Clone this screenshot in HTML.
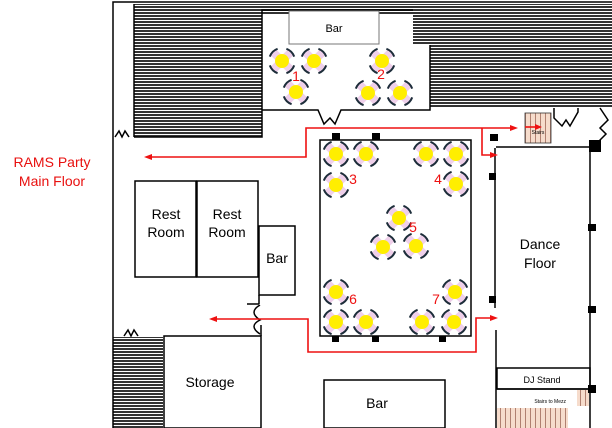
<!DOCTYPE html>
<html><head><meta charset="utf-8"><style>
html,body{margin:0;padding:0;background:#fff}
svg{display:block}
text{font-family:"Liberation Sans",sans-serif}
</style></head><body>
<svg width="612" height="428" viewBox="0 0 612 428" xmlns="http://www.w3.org/2000/svg">
<defs>
<pattern id="h" width="6" height="3" patternUnits="userSpaceOnUse">
<rect width="6" height="3" fill="#fff"/><rect width="6" height="2" fill="#333"/>
</pattern>
<pattern id="st" width="5" height="10" patternUnits="userSpaceOnUse">
<rect width="5" height="10" fill="#f6dccc"/><rect width="1" height="10" fill="#b08070"/>
</pattern>
<g id="c">
<rect x="-4" y="-12" width="8" height="24" fill="#efd0ea" transform="rotate(45)"/>
<rect x="-4" y="-12" width="8" height="24" fill="#efd0ea" transform="rotate(-45)"/>
<circle r="7" fill="#ffee00"/>
<g fill="none" stroke="#1d2d3a" stroke-width="2">
<path d="M12.2 4.4 A13 13 0 0 1 4.4 12.2"/>
<path d="M-4.4 12.2 A13 13 0 0 1 -12.2 4.4"/>
<path d="M-12.2 -4.4 A13 13 0 0 1 -4.4 -12.2"/>
<path d="M4.4 -12.2 A13 13 0 0 1 12.2 -4.4"/>
</g>
</g>
</defs>
<text x="52" y="167" font-size="14" fill="#e8100f" text-anchor="middle">RAMS Party</text>
<text x="52" y="186" font-size="14" fill="#e8100f" text-anchor="middle">Main Floor</text>

<rect x="134" y="4" width="478" height="11" fill="url(#h)"/>
<rect x="134" y="4" width="128" height="133" fill="url(#h)"/>
<rect x="413" y="10" width="199" height="35" fill="url(#h)"/>
<rect x="430" y="45" width="182" height="63" fill="url(#h)"/>
<rect x="113" y="337" width="50" height="91" fill="url(#h)"/>

<g fill="none" stroke="#000" stroke-width="1.5">
<path d="M113 428 V2 H612"/>
<path d="M134 137 V4"/>
<path d="M134 137 H262 V10 H413"/>
<path d="M262 110 H318 L324 124 L330 118 L335 124 L341 110 H430 V45"/>
<rect x="320" y="140" width="151" height="196"/>
<rect x="135" y="181" width="61" height="96"/>
<rect x="197" y="181" width="61" height="96"/>
<rect x="259" y="226" width="36" height="69"/>
<rect x="164" y="336" width="97" height="92"/>
<rect x="324" y="380" width="121" height="48"/>
<path d="M495 148 V308 M496 330 V428"/>
<path d="M590 143 V428"/>
<path d="M496 147 H590"/>
<rect x="497" y="368" width="93" height="21"/>
<path d="M497 389 H590"/>
<path d="M554 108 V118 L562 126 L566 120 L570 126 L578 112 V108 M600 108 L608 120 L600 128 L606 134 L596 144"/>
<path d="M259 295 V304 M247 304 H259 M261 336 V325"/>
<path d="M115 137 L119 131 L122 137 L125 131 L129 137 M124 336 L128 330 L131 336 L134 330 L138 336"/>
<path d="M260 305 Q248 312 260 320 Q248 326 260 334"/>
</g>
<rect x="289" y="11" width="90" height="33" fill="#fff" stroke="#777" stroke-width="1"/>
<text x="334" y="32" font-size="11" text-anchor="middle">Bar</text>

<rect x="525" y="113" width="26" height="30" fill="url(#st)" stroke="#333" stroke-width="0.8"/>
<text x="538" y="134" font-size="5" text-anchor="middle">Stairs</text>
<rect x="497" y="408" width="71" height="20" fill="url(#st)"/>
<rect x="577" y="390" width="12" height="16" fill="url(#st)"/>
<text x="566" y="403" font-size="5" text-anchor="end">Stairs to Mezz</text>

<g fill="#000">
<rect x="332" y="133" width="8" height="7"/><rect x="372" y="133" width="8" height="7"/>
<rect x="332" y="336" width="7" height="6"/><rect x="372" y="336" width="7" height="6"/><rect x="439" y="336" width="7" height="6"/>
<rect x="490" y="134" width="8" height="7"/>
<rect x="489" y="173" width="7" height="7"/><rect x="489" y="296" width="7" height="7"/>
<rect x="588" y="224" width="8" height="7"/><rect x="588" y="306" width="8" height="7"/><rect x="588" y="385" width="8" height="8"/>
<rect x="589" y="140" width="12" height="12"/>
</g>

<g stroke="#ee1111" stroke-width="1.6" fill="none">
<path d="M148 157 H306 V128 H514"/>
<path d="M482 128 V155 H494"/>
<path d="M213 319 H308 V352 H476 V318 H494"/>
<path d="M525 127 H538"/>
</g>
<g fill="#ee1111">
<path d="M144 157 L152 154 L152 160Z"/>
<path d="M518 128 L510 125 L510 131Z"/>
<path d="M498 155 L490 152 L490 158Z"/>
<path d="M209 319 L217 316 L217 322Z"/>
<path d="M498 318 L490 315 L490 321Z"/>
<path d="M542 127 L535 124 L535 130Z"/>
</g>

<use href="#c" x="282" y="61"/><use href="#c" x="314" y="61"/><use href="#c" x="296" y="92"/>
<use href="#c" x="382" y="61"/><use href="#c" x="368" y="93"/><use href="#c" x="400" y="93"/>
<use href="#c" x="336" y="154"/><use href="#c" x="366" y="154"/><use href="#c" x="336" y="185"/>
<use href="#c" x="426" y="154"/><use href="#c" x="456" y="154"/><use href="#c" x="456" y="184"/>
<use href="#c" x="399" y="218"/><use href="#c" x="383" y="247"/><use href="#c" x="416" y="246"/>
<use href="#c" x="336" y="292"/><use href="#c" x="336" y="322"/><use href="#c" x="366" y="322"/>
<use href="#c" x="455" y="292"/><use href="#c" x="422" y="322"/><use href="#c" x="454" y="322"/>
<g fill="#ee1111" font-size="14" text-anchor="middle">
<text x="296" y="81">1</text><text x="381" y="79">2</text><text x="353" y="184">3</text>
<text x="438" y="184">4</text><text x="413" y="232">5</text><text x="353" y="304">6</text><text x="436" y="304">7</text>
</g>

<g font-size="14" text-anchor="middle">
<text x="166" y="219">Rest</text><text x="166" y="237">Room</text>
<text x="227" y="219">Rest</text><text x="227" y="237">Room</text>
<text x="277" y="263">Bar</text>
<text x="210" y="387">Storage</text>
<text x="377" y="408">Bar</text>
<text x="540" y="249">Dance</text><text x="540" y="268">Floor</text>
<text x="542" y="383" font-size="9">DJ Stand</text>
</g>
</svg>
</body></html>
